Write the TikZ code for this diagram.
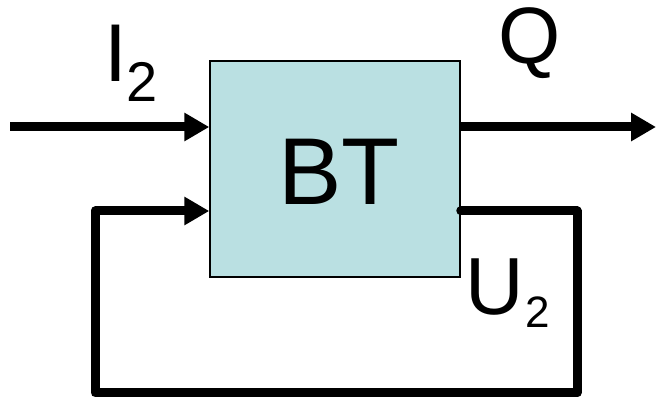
\documentclass[tikz,border=0pt]{standalone}
\usepackage{fontspec}
\setmainfont{Liberation Sans}
\usetikzlibrary{arrows.meta}
\definecolor{boxfill}{RGB}{186,224,226}
\tikzset{
  blockbox/.style={draw=black, line width=1.5pt, fill=boxfill, minimum width=250pt, minimum height=216pt, inner sep=0pt},
  flow/.style={line width=9pt, -{Triangle[length=25pt,width=27pt]}},
  loopline/.style={line width=9pt, line join=round, -{Triangle[length=25pt,width=27pt]}},
  lbl/.style={inner sep=0pt, anchor=base west}
}
\begin{document}
\begin{tikzpicture}[x=1pt,y=-1pt]
\useasboundingbox (0,0) rectangle (657,398);
\node[blockbox] (bt) at (335,169) {};
\node[inner sep=0pt, anchor=base] (btl) at (339,205) {\fontsize{95}{95}\selectfont BT};
\coordinate (inS) at (10,127);
\coordinate (outE) at (656,127);
\coordinate (fbY) at (0,211);
\coordinate (fbR) at (577,211);
\coordinate (fbRB) at (577,393);
\coordinate (fbLB) at (95,393);
\coordinate (fbL) at (95,211);
\draw[flow] (inS) -- (bt.west |- inS);
\draw[flow] (bt.east |- inS) -- (outE);
\draw[loopline, line cap=round] (bt.east |- fbY) -- (fbR) -- (fbRB) -- (fbLB) -- (fbL) -- (bt.west |- fbY);
\node[lbl] (i2) at (104,82) {\fontsize{82}{82}\selectfont I\raisebox{-20pt}{\fontsize{56}{56}\selectfont 2}};
\node[lbl] (q) at (498,64) {\fontsize{80}{80}\selectfont Q};
\node[lbl] (u2) at (465,315) {\fontsize{81}{81}\selectfont U\kern2pt\raisebox{-13pt}{\fontsize{44}{44}\selectfont 2}};
\end{tikzpicture}
\end{document}
